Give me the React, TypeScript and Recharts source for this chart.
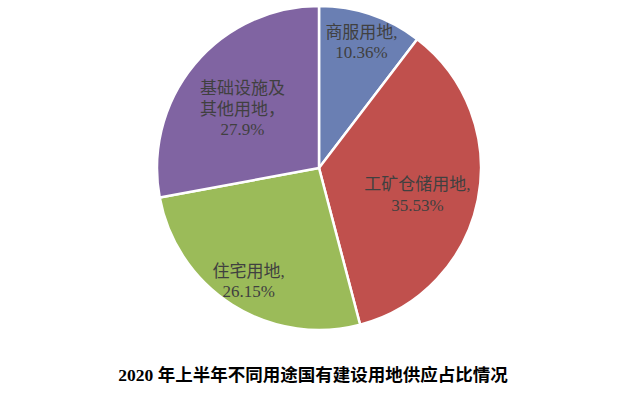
import { PieChart, Pie, Cell } from "recharts"

const categories = ["商服用地", "工矿仓储用地", "住宅用地", "基础设施及其他用地"]
const shares = [10.36, 35.53, 26.15, 27.9]
const shareLabels = ["10.36%", "35.53%", "26.15%", "27.9%"]
const labelLines = [
    ["商服用地,"],
    ["工矿仓储用地,"],
    ["住宅用地,"],
    ["基础设施及", "其他用地，"],
]

const colors = ["#6a7fb3", "#c0504d", "#9bbb59", "#8064a2"]
// label placement: fraction of radius along mid angle, plus a small nudge
const labelRadius = [0.82, 0.62, 0.81, 0.63]
const labelNudge = [[0, 0], [0, 7], [0, 2], [2, 6]]

const data = categories.map((name, i) => ({ name, value: shares[i] }))

const RADIAN = Math.PI / 180

function renderLabel(props: any) {
    const { cx, cy, midAngle, outerRadius, index } = props
    const r = outerRadius * labelRadius[index]
    const x = cx + r * Math.cos(-midAngle * RADIAN) + labelNudge[index][0]
    const y = cy + r * Math.sin(-midAngle * RADIAN) + labelNudge[index][1]
    const lines = [...labelLines[index], shareLabels[index]]
    const lineHeight = 20.5
    const startY = y - ((lines.length - 1) * lineHeight) / 2
    return (
        <text
            x={x}
            y={startY}
            textAnchor="middle"
            dominantBaseline="central"
            fill="#404040"
            fontSize={17}
            fontFamily="'Liberation Serif', 'Noto Sans CJK SC', serif"
        >
            {lines.map((t, i) => (
                <tspan key={i} x={x} y={startY + i * lineHeight}>
                    {t}
                </tspan>
            ))}
        </text>
    )
}

export default function App() {
    return (
        <div style={{ position: "absolute", left: 0, top: 0, width: 632, height: 393, background: "#fff" }}>
            <PieChart width={632} height={393} margin={{ top: 0, right: 0, bottom: 0, left: 0 }}>
                <Pie
                    data={data}
                    dataKey="value"
                    nameKey="name"
                    cx={319}
                    cy={168}
                    outerRadius={162}
                    startAngle={90}
                    endAngle={-270}
                    stroke="#ffffff"
                    strokeWidth={2.5}
                    label={renderLabel}
                    labelLine={false}
                    isAnimationActive={false}
                >
                    {data.map((d, i) => (
                        <Cell key={d.name} fill={colors[i]} />
                    ))}
                </Pie>
            </PieChart>
            <div
                style={{
                    position: "absolute",
                    left: 0,
                    top: 364,
                    width: 626,
                    textAlign: "center",
                    fontFamily: "'Liberation Serif', 'Noto Sans CJK SC', serif",
                    fontWeight: "bold",
                    fontSize: 17.5,
                    color: "#000",
                    lineHeight: "22px",
                }}
            >
                2020 年上半年不同用途国有建设用地供应占比情况
            </div>
        </div>
    )
}
